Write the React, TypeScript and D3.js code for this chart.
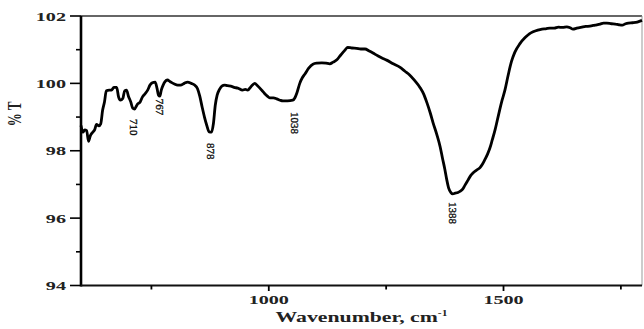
import React, { useEffect, useRef } from "react";
import * as d3 from "d3";

// FTIR spectrum
const wavenumbers = [
  600, 604, 608, 612, 616, 620, 625, 629, 633, 638, 642, 646, 650, 654, 660,
  665, 670, 676, 680, 684, 689, 693, 697, 701, 706, 710, 714, 720, 726, 731,
  737, 742, 747, 752, 758, 762, 765, 768, 771, 775, 779, 784, 790, 799, 806,
  812, 820, 827, 835, 842, 848, 853, 858, 863, 868, 873, 878, 882, 886, 890,
  895, 900, 906, 912, 919, 926, 934, 944, 950, 955, 962, 970, 976, 981, 986,
  991, 997, 1002, 1010, 1017, 1024, 1030, 1040, 1051, 1056, 1060, 1066, 1072,
  1077, 1085, 1094, 1103, 1113, 1122, 1130, 1137, 1145, 1152, 1158, 1163, 1168,
  1177, 1187, 1196, 1205, 1214, 1222, 1232, 1243, 1251, 1265, 1279, 1290, 1300,
  1311, 1322, 1330, 1337, 1344, 1350, 1358, 1365, 1370, 1375, 1379, 1383, 1388,
  1392, 1397, 1403, 1408, 1413, 1418, 1424, 1430, 1435, 1442, 1450, 1455, 1460,
  1466, 1471, 1476, 1482, 1487, 1492, 1497, 1503, 1510, 1517, 1524, 1535, 1546,
  1555, 1563, 1573, 1582, 1590, 1599, 1608, 1617, 1626, 1635, 1642, 1648, 1656,
  1667, 1675, 1684, 1695, 1706, 1713, 1720, 1730, 1738, 1746, 1753, 1760, 1766,
  1775, 1785, 1795,
];

const transmittance = [
  98.75, 98.55, 98.62, 98.6, 98.28, 98.45, 98.55, 98.62, 98.78, 98.74, 98.8,
  99.2, 99.45, 99.78, 99.8, 99.8, 99.88, 99.88, 99.6, 99.5, 99.55, 99.78, 99.8,
  99.62, 99.45, 99.27, 99.24, 99.38, 99.45, 99.6, 99.7, 99.8, 99.95, 100.02,
  100.04, 99.85, 99.65, 99.62, 99.8, 99.95, 100.05, 100.1, 100.05, 99.98, 99.95,
  99.95, 100.0, 100.04, 100.0, 99.95, 99.85, 99.62, 99.3, 99.0, 98.75, 98.56,
  98.55, 98.8, 99.35, 99.65, 99.82, 99.92, 99.95, 99.93, 99.92, 99.88, 99.86,
  99.8, 99.82, 99.8, 99.9, 100.0, 99.93, 99.86, 99.78, 99.7, 99.62, 99.57,
  99.57, 99.54, 99.5, 99.48, 99.48, 99.5, 99.58, 99.72, 100.0, 100.18, 100.28,
  100.45, 100.57, 100.6, 100.61, 100.6, 100.58, 100.63, 100.7, 100.82, 100.92,
  101.0, 101.07, 101.05, 101.04, 101.02, 101.02, 100.96, 100.9, 100.82, 100.74,
  100.69, 100.58, 100.48, 100.36, 100.25, 100.08, 99.88, 99.68, 99.42, 99.12,
  98.83, 98.48, 98.12, 97.78, 97.45, 97.15, 96.9, 96.76, 96.72, 96.74, 96.76,
  96.8, 96.86, 96.98, 97.12, 97.26, 97.34, 97.42, 97.5, 97.6, 97.73, 97.9,
  98.08, 98.32, 98.62, 98.92, 99.22, 99.5, 99.8, 100.25, 100.65, 100.92, 101.18,
  101.36, 101.47, 101.53, 101.58, 101.61, 101.62, 101.64, 101.64, 101.67,
  101.66, 101.68, 101.65, 101.61, 101.64, 101.67, 101.69, 101.7, 101.73, 101.76,
  101.79, 101.79, 101.77, 101.76, 101.74, 101.73, 101.77, 101.79, 101.8, 101.82,
  101.87,
];

const yTicks = [94, 96, 98, 100, 102];
const yMinorTicks = [95, 97, 99, 101];
const xTicks = [1000, 1500];
const xMinorTicks = [750, 1250, 1750];

// band labels: text, wavenumber where the label sits, %T at the top of the label
const peakLabels = ["710", "767", "878", "1038", "1388"];
const peakLabelWavenumbers = [712, 767, 876, 1055, 1392];
const peakLabelTops = [98.94, 99.54, 98.23, 99.15, 96.48];

const FONT = "'Liberation Serif', 'Times New Roman', serif";

const IrSpectrum = () => {
  const svgRef = useRef<SVGSVGElement>(null);

  useEffect(() => {
    const width = 644;
    const height = 329;
    const margin = { top: 16, right: 2, bottom: 43.5, left: 81 };

    const svg = d3.select(svgRef.current);
    svg.selectAll("*").remove();
    svg.attr("width", width).attr("height", height);

    svg
      .append("rect")
      .attr("width", width)
      .attr("height", height)
      .attr("fill", "#fff");

    const x = d3
      .scaleLinear()
      .domain([600, 1795])
      .range([margin.left, width - margin.right]);

    const y = d3
      .scaleLinear()
      .domain([94, 102])
      .range([height - margin.bottom, margin.top]);

    const [x0, x1] = x.range();
    const [yb, yt] = y.range();

    // frame: top and right edges
    svg
      .append("line")
      .attr("x1", x0)
      .attr("x2", x1)
      .attr("y1", yt)
      .attr("y2", yt)
      .attr("stroke", "#333")
      .attr("stroke-width", 1.5);

    svg
      .append("line")
      .attr("x1", x1)
      .attr("x2", x1)
      .attr("y1", yt)
      .attr("y2", yb)
      .attr("stroke", "#999")
      .attr("stroke-width", 1);

    // spectrum
    const line = d3
      .line<number>()
      .x((d, i) => x(wavenumbers[i]))
      .y((d) => y(d))
      .curve(d3.curveMonotoneX);

    svg
      .append("path")
      .datum(transmittance)
      .attr("d", line)
      .attr("fill", "none")
      .attr("stroke", "#000")
      .attr("stroke-width", 2.8)
      .attr("stroke-linejoin", "round");

    // axes lines
    svg
      .append("line")
      .attr("x1", x0)
      .attr("x2", x0)
      .attr("y1", yt)
      .attr("y2", yb + 1)
      .attr("stroke", "#000")
      .attr("stroke-width", 2.6);

    svg
      .append("line")
      .attr("x1", x0)
      .attr("x2", x1)
      .attr("y1", yb)
      .attr("y2", yb)
      .attr("stroke", "#111")
      .attr("stroke-width", 2);

    // y ticks
    svg
      .selectAll(".ytick")
      .data(yTicks)
      .enter()
      .append("line")
      .attr("x1", x0 - 11)
      .attr("x2", x0)
      .attr("y1", (d) => y(d))
      .attr("y2", (d) => y(d))
      .attr("stroke", "#000")
      .attr("stroke-width", 1.6);

    svg
      .selectAll(".yminor")
      .data(yMinorTicks)
      .enter()
      .append("line")
      .attr("x1", x0 - 5)
      .attr("x2", x0)
      .attr("y1", (d) => y(d))
      .attr("y2", (d) => y(d))
      .attr("stroke", "#000")
      .attr("stroke-width", 1.6);

    svg
      .selectAll(".ylabel")
      .data(yTicks)
      .enter()
      .append("text")
      .attr("transform", (d) => `translate(${x0 - 15},${y(d) + 4.5}) scale(1.55,1)`)
      .attr("text-anchor", "end")
      .style("font-family", FONT)
      .style("font-weight", "bold")
      .style("font-size", "13px")
      .style("fill", "#222")
      .text((d) => d);

    // x ticks
    svg
      .selectAll(".xtick")
      .data(xTicks)
      .enter()
      .append("line")
      .attr("x1", (d) => x(d))
      .attr("x2", (d) => x(d))
      .attr("y1", yb)
      .attr("y2", yb + 5.5)
      .attr("stroke", "#000")
      .attr("stroke-width", 1.8);

    svg
      .selectAll(".xminor")
      .data(xMinorTicks)
      .enter()
      .append("line")
      .attr("x1", (d) => x(d))
      .attr("x2", (d) => x(d))
      .attr("y1", yb)
      .attr("y2", yb + 4)
      .attr("stroke", "#000")
      .attr("stroke-width", 1.8);

    svg
      .selectAll(".xlabel")
      .data(xTicks)
      .enter()
      .append("text")
      .attr("transform", (d) => `translate(${x(d)},${yb + 18.5}) scale(1.55,1)`)
      .attr("text-anchor", "middle")
      .style("font-family", FONT)
      .style("font-weight", "bold")
      .style("font-size", "13px")
      .style("fill", "#222")
      .text((d) => d);

    // axis titles
    const xTitle = svg
      .append("text")
      .attr("transform", `translate(${(x0 + x1) / 2},${yb + 36.5}) scale(1.45,1)`)
      .attr("text-anchor", "middle")
      .style("font-family", FONT)
      .style("font-weight", "bold")
      .style("font-size", "15px")
      .style("fill", "#222");
    xTitle.append("tspan").text("Wavenumber, cm");
    xTitle
      .append("tspan")
      .attr("dy", -6)
      .style("font-size", "8px")
      .text("-1");

    svg
      .append("text")
      .attr("transform", `translate(21,114) rotate(-90) scale(1,1.5)`)
      .attr("text-anchor", "middle")
      .style("font-family", FONT)
      .style("font-weight", "bold")
      .style("font-size", "13px")
      .style("fill", "#222")
      .text("% T");

    // band labels
    svg
      .selectAll(".peak")
      .data(peakLabels)
      .enter()
      .append("text")
      .attr(
        "transform",
        (d, i) =>
          `translate(${x(peakLabelWavenumbers[i]) - 3.8},${y(peakLabelTops[i])}) rotate(90)`
      )
      .attr("text-anchor", "start")
      .style("font-family", FONT)
      .style("font-size", "11px")
      .style("fill", "#111")
      .style("stroke", "#111")
      .style("stroke-width", 0.35)
      .text((d) => d);
  }, []);

  return (
    <svg
      ref={svgRef}
      style={{ position: "absolute", left: 0, top: 0, display: "block" }}
    ></svg>
  );
};

export default function App() {
  return <IrSpectrum />;
}
